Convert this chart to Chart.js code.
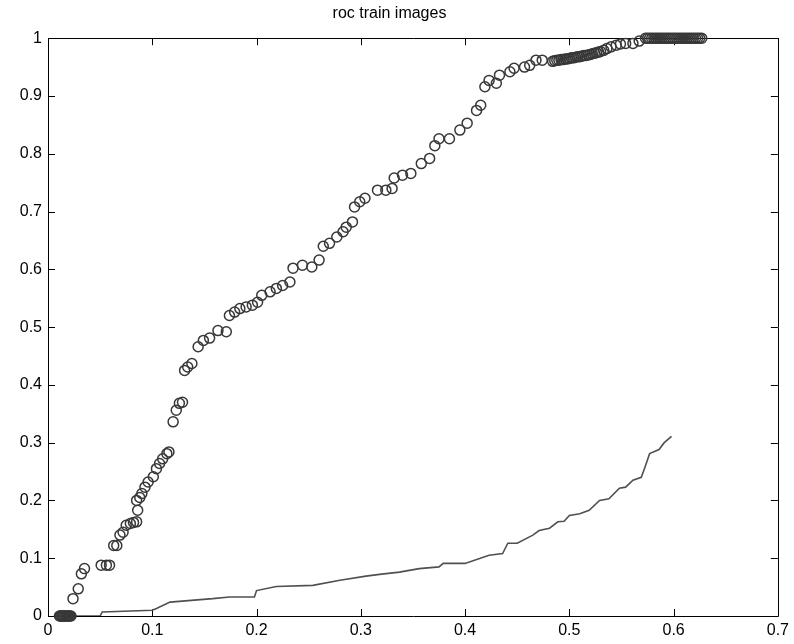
<!DOCTYPE html>
<html>
<head>
<meta charset="utf-8">
<script src="https://cdn.jsdelivr.net/npm/chart.js@4/dist/chart.umd.min.js"></script>
<style>
  html, body { margin: 0; padding: 0; background: #fff; }
  #wrap { width: 794px; height: 644px; }
</style>
</head>
<body>
<div id="wrap"><canvas id="c" width="794" height="644"></canvas></div>
<script>
// roc points (circles)
const rocX = [
  0.011, 0.012, 0.013, 0.014, 0.015, 0.016, 0.017, 0.018, 0.019, 0.020, 0.021, 0.022,
  0.024, 0.029, 0.032, 0.035,
  0.051, 0.056, 0.059, 0.063, 0.066,
  0.069, 0.072, 0.075, 0.079, 0.082, 0.085,
  0.086, 0.085, 0.088, 0.090, 0.093, 0.096, 0.101, 0.104, 0.107, 0.110, 0.114, 0.116,
  0.120, 0.123, 0.126, 0.129,
  0.131, 0.134, 0.138,
  0.144, 0.149, 0.155, 0.163, 0.171,
  0.174, 0.179, 0.184, 0.190, 0.196, 0.201, 0.205, 0.213, 0.219, 0.225, 0.232,
  0.235, 0.244, 0.253, 0.260,
  0.264, 0.270, 0.277, 0.283, 0.286, 0.292,
  0.294, 0.299, 0.304,
  0.316, 0.324, 0.330,
  0.332, 0.340, 0.348,
  0.358, 0.366,
  0.371, 0.375, 0.385, 0.395, 0.402,
  0.411, 0.415,
  0.419, 0.423, 0.430, 0.433, 0.443, 0.447, 0.457, 0.462, 0.468, 0.474,
  0.484, 0.486, 0.488, 0.490, 0.492, 0.494, 0.496, 0.498, 0.500, 0.502,
  0.504, 0.506, 0.508, 0.510, 0.512, 0.514, 0.516, 0.518, 0.520, 0.522,
  0.524, 0.526, 0.528, 0.530, 0.533, 0.536, 0.540, 0.545, 0.549, 0.554,
  0.561, 0.567,
  0.573, 0.575, 0.577, 0.579, 0.581, 0.583, 0.585, 0.587, 0.589, 0.591,
  0.593, 0.595, 0.597, 0.599, 0.601, 0.603, 0.605, 0.607, 0.609, 0.611,
  0.613, 0.615, 0.617, 0.619, 0.621, 0.623, 0.625, 0.627
];
const rocY = [
  0, 0, 0, 0, 0, 0, 0, 0, 0, 0, 0, 0,
  0.030, 0.047, 0.073, 0.082,
  0.088, 0.088, 0.088, 0.122, 0.122,
  0.140, 0.145, 0.157, 0.160, 0.162, 0.163,
  0.183, 0.200, 0.205, 0.212, 0.223, 0.232, 0.241, 0.255, 0.264, 0.272, 0.281, 0.284,
  0.336, 0.356, 0.368, 0.370,
  0.425, 0.431, 0.437,
  0.466, 0.477, 0.481, 0.494, 0.492,
  0.520, 0.526, 0.532, 0.535, 0.538, 0.543, 0.555, 0.561, 0.567, 0.572, 0.578,
  0.602, 0.607, 0.604, 0.616,
  0.640, 0.645, 0.656, 0.665, 0.673, 0.682,
  0.708, 0.717, 0.723,
  0.737, 0.737, 0.740,
  0.758, 0.763, 0.766,
  0.783, 0.792,
  0.814, 0.826, 0.826, 0.841, 0.853,
  0.875, 0.884,
  0.916, 0.927, 0.922, 0.936, 0.942, 0.948, 0.950, 0.953, 0.962, 0.962,
  0.960, 0.961, 0.962, 0.962, 0.963, 0.963, 0.964, 0.964, 0.965, 0.966,
  0.966, 0.967, 0.968, 0.968, 0.969, 0.970, 0.970, 0.971, 0.972, 0.973,
  0.974, 0.975, 0.976, 0.977, 0.979, 0.982, 0.985, 0.988, 0.990, 0.991,
  0.991, 0.995,
  1, 1, 1, 1, 1, 1, 1, 1, 1, 1,
  1, 1, 1, 1, 1, 1, 1, 1, 1, 1,
  1, 1, 1, 1, 1, 1, 1, 1
];

// lower curve
const lineX = [0.012, 0.050, 0.052, 0.100, 0.104, 0.117, 0.158, 0.174, 0.198, 0.200,
  0.219, 0.254, 0.280, 0.305, 0.318, 0.337, 0.356, 0.375, 0.379, 0.400,
  0.423, 0.436, 0.441, 0.450, 0.465, 0.471, 0.481, 0.489, 0.495, 0.500,
  0.510, 0.519, 0.529, 0.538, 0.548, 0.554, 0.561, 0.569, 0.572, 0.577,
  0.586, 0.591, 0.598];
const lineY = [0, 0, 0.007, 0.010, 0.013, 0.024, 0.030, 0.033, 0.033, 0.044,
  0.051, 0.053, 0.062, 0.069, 0.072, 0.076, 0.082, 0.085, 0.091, 0.091,
  0.105, 0.108, 0.126, 0.126, 0.140, 0.148, 0.152, 0.163, 0.164, 0.174,
  0.177, 0.183, 0.200, 0.203, 0.221, 0.223, 0.235, 0.240, 0.255, 0.281,
  0.288, 0.300, 0.311];

const xTicks = [0, 0.1, 0.2, 0.3, 0.4, 0.5, 0.6, 0.7];
const yTicks = [0, 0.1, 0.2, 0.3, 0.4, 0.5, 0.6, 0.7, 0.8, 0.9, 1];
const titleText = 'roc train images';

const FONT = 'Arial, "Liberation Sans", sans-serif';

// matlab style box with inward ticks on all four sides
const boxPlugin = {
  id: 'box',
  beforeDatasetsDraw(chart) {
    const { ctx, chartArea: a, scales } = chart;
    const len = 7;
    ctx.save();
    ctx.strokeStyle = '#000';
    ctx.lineWidth = 1;
    ctx.beginPath();
    ctx.rect(Math.round(a.left) + 0.5, Math.round(a.top) + 0.5,
      Math.round(a.right - a.left), Math.round(a.bottom - a.top));
    for (const v of xTicks) {
      const px = Math.round(scales.x.getPixelForValue(v)) + 0.5;
      ctx.moveTo(px, a.bottom); ctx.lineTo(px, a.bottom - len);
      ctx.moveTo(px, a.top); ctx.lineTo(px, a.top + len);
    }
    for (const v of yTicks) {
      const py = Math.round(scales.y.getPixelForValue(v)) + 0.5;
      ctx.moveTo(a.left, py); ctx.lineTo(a.left + len, py);
      ctx.moveTo(a.right, py); ctx.lineTo(a.right - len, py);
    }
    ctx.stroke();
    ctx.restore();
  }
};

new Chart(document.getElementById('c'), {
  type: 'scatter',
  data: {
    datasets: [
      {
        data: rocX.map((x, i) => ({ x, y: rocY[i] })),
        clip: false,
        pointStyle: 'circle',
        pointRadius: 5,
        pointBorderWidth: 1.5,
        pointBorderColor: '#383838',
        pointBackgroundColor: 'rgba(0,0,0,0)',
        showLine: false
      },
      {
        data: lineX.map((x, i) => ({ x, y: lineY[i] })),
        showLine: true,
        borderColor: '#505050',
        borderWidth: 1.6,
        pointRadius: 0,
        fill: false
      }
    ]
  },
  options: {
    responsive: false,
    animation: false,
    events: [],
    layout: { padding: { left: 0, right: 15, top: 0, bottom: 0 } },
    plugins: {
      legend: { display: false },
      tooltip: { enabled: false },
      title: {
        display: true,
        text: titleText,
        color: '#000',
        font: { family: FONT, size: 16, weight: 'normal' },
        padding: { top: 4, bottom: 15 }
      }
    },
    scales: {
      x: {
        type: 'linear',
        min: 0, max: 0.7,
        afterBuildTicks: s => { s.ticks = xTicks.map(v => ({ value: v })); },
        afterFit: s => { s.height = 28; },
        grid: { display: false, drawTicks: false },
        border: { display: false },
        ticks: {
          color: '#000', padding: 5,
          font: { family: FONT, size: 16 },
          callback: v => String(+v.toFixed(1))
        }
      },
      y: {
        type: 'linear',
        min: 0, max: 1,
        afterBuildTicks: s => { s.ticks = yTicks.map(v => ({ value: v })); },
        afterFit: s => { s.width = 48; },
        grid: { display: false, drawTicks: false },
        border: { display: false },
        ticks: {
          color: '#000', padding: 6,
          font: { family: FONT, size: 16 },
          callback: v => String(+v.toFixed(1))
        }
      }
    }
  },
  plugins: [boxPlugin]
});
</script>
</body>
</html>
